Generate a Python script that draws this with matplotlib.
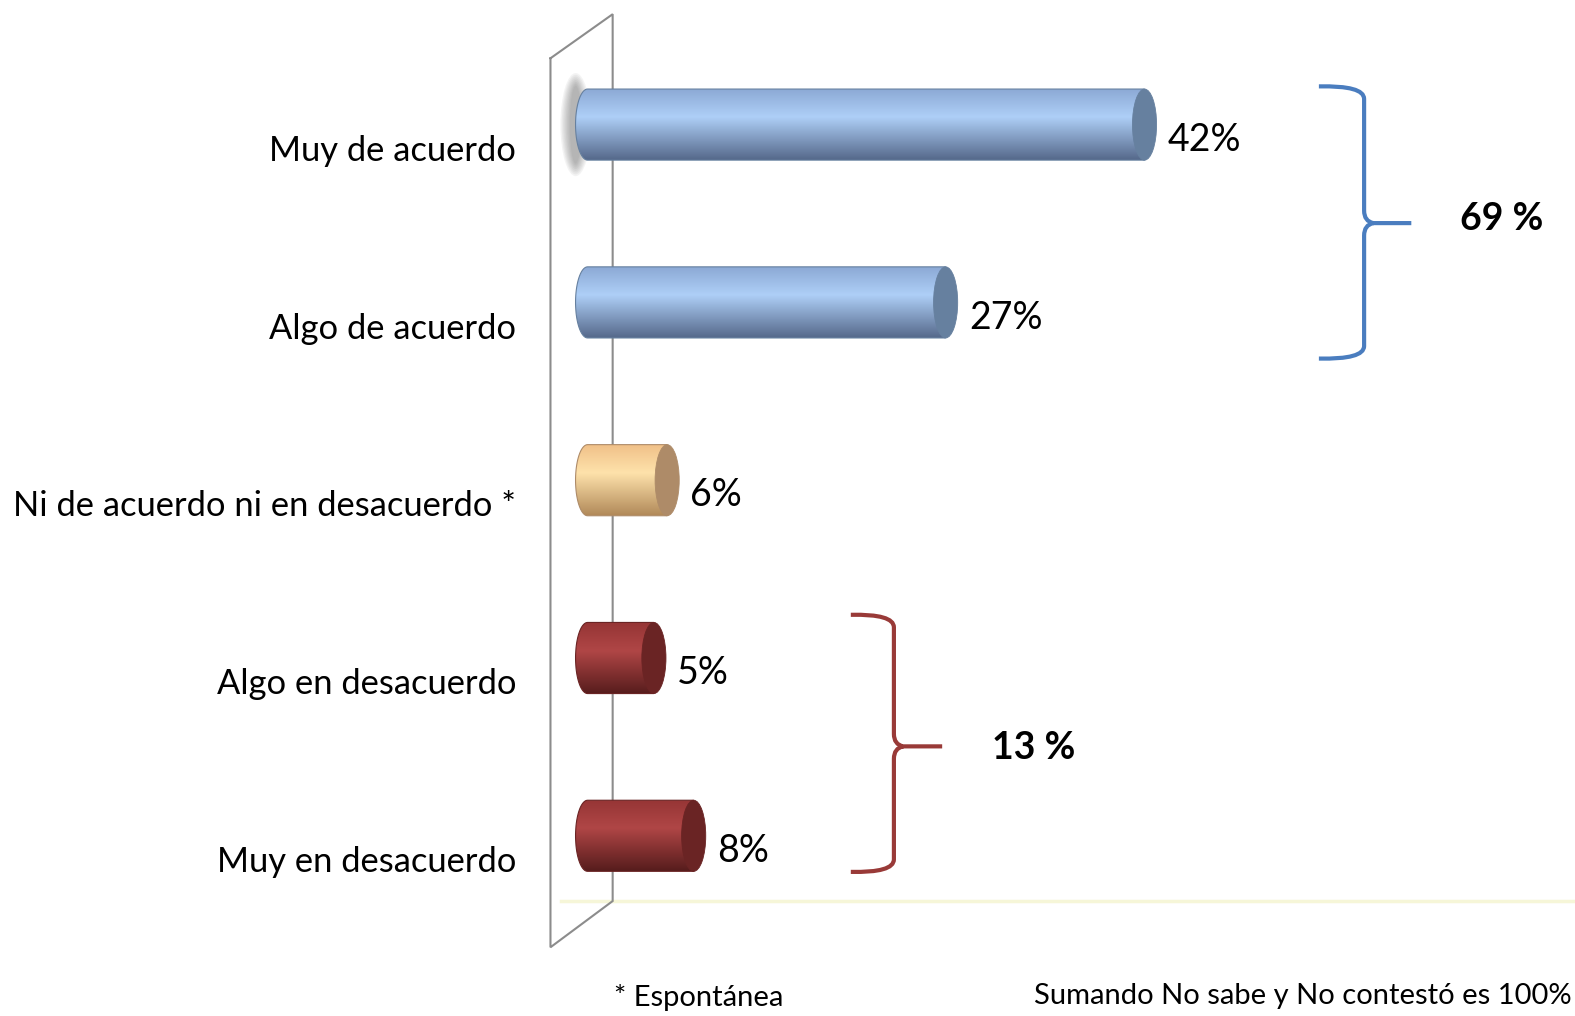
import numpy as np
import matplotlib
matplotlib.use("Agg")
import matplotlib.pyplot as plt
from matplotlib.path import Path
from matplotlib.patches import PathPatch, Ellipse
from matplotlib.colors import LinearSegmentedColormap

plt.rcParams['font.family'] = ['Lato', 'DejaVu Sans']

categorias = ["Muy de acuerdo", "Algo de acuerdo", "Ni de acuerdo ni en desacuerdo *",
              "Algo en desacuerdo", "Muy en desacuerdo"]
valores = [42, 27, 6, 5, 8]
grupo = ["acuerdo", "acuerdo", "neutro", "desacuerdo", "desacuerdo"]
etiquetas = ["42%", "27%", "6%", "5%", "8%"]
total_acuerdo = "69 %"
total_desacuerdo = "13 %"
nota_izq = "* Espontánea"
nota_der = "Sumando No sabe y No contestó es 100%"

# colores del cilindro: borde superior, brillo, borde inferior, tapa
estilos = {
    "acuerdo": ("#8ba8d4", "#aecff7", "#55688a", "#66809f"),
    "neutro": ("#f0c088", "#fee2ab", "#b08858", "#ae8b68"),
    "desacuerdo": ("#953535", "#b04646", "#561c1c", "#6a2424"),
}
azul = "#4a7dbf"
rojo = "#993a38"

fig = plt.figure(figsize=(15.75, 10.16), dpi=100)
ax = fig.add_axes([0, 0, 1, 1])
ax.set_axis_off()

px = 13.26   # pixeles por punto porcentual
x0 = 587.6   # pixel del cero
py = 177.8   # pixeles entre categorias
y0 = 124.6
xmin, xmax = -x0 / px, (1575 - x0) / px
ymin, ymax = -y0 / py, (1016 - y0) / py

h = 0.2     # medio alto de la barra
ew = 0.91   # medio ancho de la elipse

# pared lateral
ax.plot([-2.80, 1.89, 1.89, -2.80, -2.80], [-0.373, -0.621, 4.367, 4.627, -0.373],
        color="#8c8c8c", lw=1.5, zorder=1, solid_joinstyle="miter")
ax.plot([-2.0, xmax], [4.367, 4.367], color="#f6f6d8", lw=2.5, zorder=0.5)

# sombra difusa de la primera barra
for k in range(8):
    ax.add_patch(Ellipse((-0.9, 0), 0.9 + 0.2 * k, 2 * h + 0.04 + 0.02 * k,
                         facecolor="#606060", edgecolor="none", alpha=0.07, zorder=1.5))

t = np.linspace(np.pi / 2, 3 * np.pi / 2, 40)
for i, (v, g) in enumerate(zip(valores, grupo)):
    c_top, c_mid, c_bot, c_cap = estilos[g]
    cmap = LinearSegmentedColormap.from_list(g, [(0, c_top), (0.4, c_mid), (1, c_bot)])
    # cuerpo: rectangulo + media elipse izquierda
    izq = np.column_stack([ew * np.cos(t), i - h * np.sin(t)])
    verts = np.vstack([[[v, i - h]], izq, [[v, i + h]], [[v, i - h]]])
    cuerpo = PathPatch(Path(verts, closed=True), facecolor="none", edgecolor=c_cap, lw=0.8, zorder=3)
    ax.add_patch(cuerpo)
    grad = np.linspace(0, 1, 256).reshape(-1, 1)
    im = ax.imshow(grad, cmap=cmap, extent=(-ew, v, i + h, i - h), origin="upper",
                   aspect="auto", zorder=2, interpolation="bilinear")
    im.set_clip_path(cuerpo)
    ax.add_patch(Ellipse((v, i), 2 * ew, 2 * h, facecolor=c_cap, edgecolor=c_cap,
                         lw=0.6, zorder=3.5))
    ax.text(v + 1.75, i + 0.085, etiquetas[i], fontsize=27, va="center", ha="left", zorder=4)
    ax.text(-5.38, i + 0.147, categorias[i], fontsize=24.8, va="center", ha="right")


def llave(x_brazo, x_eje, x_punta, y_sup, y_med, y_inf, color):
    r = 0.07
    dx = 0.7
    verts = [
        (x_brazo, y_sup), (x_eje, y_sup - 0.005), (x_eje, y_sup + r),
        (x_eje, y_med - r),
        (x_eje, y_med - 0.01), (x_eje + dx, y_med),
        (x_punta, y_med),
        (x_eje + dx, y_med), (x_eje, y_med + 0.01), (x_eje, y_med + r),
        (x_eje, y_inf - r),
        (x_eje, y_inf + 0.005), (x_brazo, y_inf),
    ]
    codes = [Path.MOVETO, Path.CURVE3, Path.CURVE3, Path.LINETO,
             Path.CURVE3, Path.CURVE3, Path.LINETO,
             Path.MOVETO, Path.CURVE3, Path.CURVE3, Path.LINETO,
             Path.CURVE3, Path.CURVE3]
    ax.add_patch(PathPatch(Path(verts, codes), facecolor="none", edgecolor=color,
                           lw=3, capstyle="butt", joinstyle="round", zorder=3))


llave(55.15, 58.56, 62.12, -0.215, 0.554, 1.316, azul)
llave(19.85, 23.1, 26.74, 2.757, 3.497, 4.203, rojo)
ax.text(65.76, 0.531, total_acuerdo, fontsize=27, fontweight="bold", va="center", ha="left")
ax.text(30.53, 3.508, total_desacuerdo, fontsize=27, fontweight="bold", va="center", ha="left")

fig.text(611 / 1568, 1 - 993 / 1011, nota_izq, fontsize=21, va="center", ha="left")
fig.text(1565 / 1568, 1 - 991 / 1011, nota_der, fontsize=21, va="center", ha="right")

ax.set_xlim(xmin, xmax)
ax.set_ylim(ymax, ymin)
fig.savefig("out.png", dpi=100)
